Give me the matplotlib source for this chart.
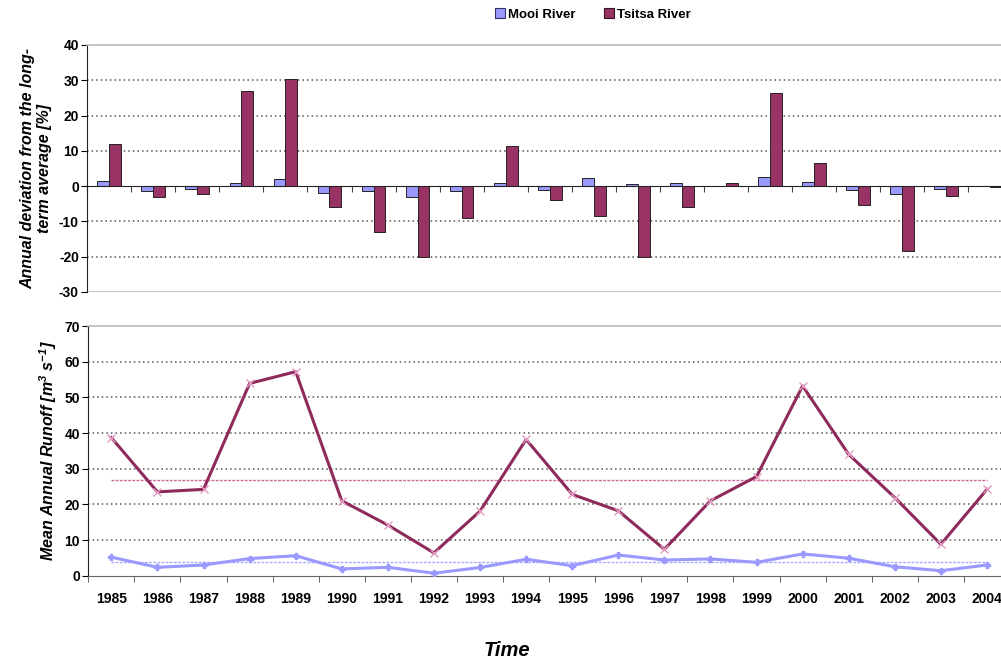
import matplotlib
matplotlib.use("Agg")
import matplotlib.pyplot as plt
from matplotlib.lines import Line2D
from matplotlib.ticker import FixedLocator, NullFormatter
import numpy as np

plt.rcParams['font.family'] = ['Liberation Sans', 'DejaVu Sans']
plt.rcParams['font.weight'] = 'bold'
plt.rcParams['axes.unicode_minus'] = False
plt.rcParams['mathtext.fontset'] = 'custom'
plt.rcParams['mathtext.rm'] = 'Liberation Sans:bold:italic'
plt.rcParams['mathtext.it'] = 'Liberation Sans:bold:italic'

# Annual deviation from the long-term average [%]
dev_years = list(range(1985, 2006))
mooi_dev = [1.5, -1.5, -0.8, 1.0, 2.0, -2.0, -1.5, -3.0, -1.5, 1.0,
            -1.0, 2.3, 0.7, 1.0, 0.0, 2.5, 1.2, -1.2, -2.3, -0.8, 0.1]
tsitsa_dev = [12.0, -3.0, -2.3, 27.0, 30.5, -6.0, -13.0, -20.0, -9.0, 11.5,
              -3.8, -8.5, -20.0, -5.8, 1.0, 26.5, 6.5, -5.3, -18.3, -2.8, -0.2]

# Mean annual runoff [m3/s]
years = list(range(1985, 2005))
tsitsa_runoff = [38.7, 23.5, 24.2, 53.9, 57.2, 21.0, 14.2, 6.4, 18.1, 38.2,
                 22.8, 18.2, 7.4, 21.0, 27.8, 53.2, 34.0, 21.9, 8.8, 24.2]
mooi_runoff = [5.2, 2.35, 3.0, 4.8, 5.6, 1.9, 2.35, 0.7, 2.3, 4.6,
               2.8, 5.8, 4.4, 4.7, 3.75, 6.1, 4.9, 2.5, 1.4, 3.0]
tsitsa_mean = 26.7
mooi_mean = 3.75

MOOI = '#9999FF'
TSITSA = '#993366'
GRID = '#555555'
BORDER = '#BBBBBB'

fig = plt.figure(figsize=(10.01, 6.64), dpi=100)

# ---------- top panel: deviation bars ----------
W, H = 1001.0, 664.0
ax1 = fig.add_axes([87.3 / W, 1 - 292 / H, (1012 - 87.3) / W, (292 - 45) / H])
n1 = len(dev_years)
x1 = np.arange(n1)
bw = 0.27
ax1.bar(x1 - bw / 2, mooi_dev, bw, color=MOOI, edgecolor='#222222', linewidth=0.7, zorder=3)
ax1.bar(x1 + bw / 2, tsitsa_dev, bw, color=TSITSA, edgecolor='#222222', linewidth=0.7, zorder=3)
ax1.set_xlim(-0.5, n1 - 0.5)
ax1.set_ylim(-30, 40)
ax1.set_yticks(range(-30, 41, 10))
for v in (30, 20, 10, -10, -20):
    ax1.axhline(v, color=GRID, linestyle=(0, (1, 2)), linewidth=1.1, zorder=1)
ax1.axhline(-30, color=BORDER, linewidth=1.2, zorder=1)
ax1.spines['top'].set_color(BORDER)
ax1.spines['top'].set_linewidth(1.2)
ax1.spines['right'].set_visible(False)
ax1.spines['bottom'].set_position(('data', 0))
ax1.spines['bottom'].set_color('#222222')
ax1.spines['bottom'].set_zorder(4)
ax1.spines['left'].set_color('#222222')
ax1.xaxis.set_major_locator(FixedLocator(np.arange(n1 + 1) - 0.5))
ax1.xaxis.set_major_formatter(NullFormatter())
ax1.tick_params(axis='x', direction='out', length=4, color='#444444')
ax1.tick_params(axis='y', direction='out', length=4, labelsize=10, pad=2)
ax1.set_ylabel('Annual deviation from the long-\nterm average [%]',
               fontsize=11.5, fontstyle='italic', fontweight='bold', labelpad=5,
               linespacing=1.15)

# ---------- bottom panel: runoff lines ----------
ax2 = fig.add_axes([88.3 / W, 1 - 575.7 / H, (1010 - 88.3) / W, (575.7 - 326) / H])
n2 = len(years)
x2 = np.arange(n2)
ax2.set_xlim(-0.5, n2 - 0.5)
ax2.set_ylim(0, 70)
ax2.set_yticks(range(0, 71, 10))
for v in range(10, 61, 10):
    ax2.axhline(v, color=GRID, linestyle=(0, (1, 2)), linewidth=1.1, zorder=1)
ax2.plot([x2[0], x2[-1]], [tsitsa_mean, tsitsa_mean], color='#CC6699',
         linestyle=(0, (2, 1)), linewidth=1.0, zorder=2)
ax2.plot([x2[0], x2[-1]], [mooi_mean, mooi_mean], color='#AAAAFF',
         linestyle=(0, (2, 1)), linewidth=1.0, zorder=2)
ax2.plot(x2, tsitsa_runoff, color='#8E2A5C', linewidth=2.2, marker='x', markersize=6,
         markeredgecolor='#E39AC0', markeredgewidth=1.0, zorder=3)
ax2.plot(x2, mooi_runoff, color=MOOI, linewidth=2.2, marker='P', markersize=5,
         markeredgecolor=MOOI, zorder=3)
ax2.spines['top'].set_color(BORDER)
ax2.spines['top'].set_linewidth(1.2)
ax2.spines['right'].set_visible(False)
ax2.spines['bottom'].set_color('#666666')
ax2.spines['left'].set_color('#222222')
ax2.set_xticks(x2)
ax2.set_xticklabels([str(y) for y in years])
ax2.set_xticks(np.arange(n2 + 1) - 0.5, minor=True)
ax2.tick_params(axis='x', which='major', length=0, labelsize=10, pad=12)
ax2.tick_params(axis='x', which='minor', direction='out', length=4, color='#444444')
ax2.tick_params(axis='y', direction='out', length=4, labelsize=10, pad=2)
ax2.set_ylabel(r'Mean Annual Runoff [m$^{3}$ s$^{-1}$]',
               fontsize=11.5, fontstyle='italic', fontweight='bold', labelpad=4)

fig.text(507 / W, 1 - 651 / H, 'Time', ha='center', va='center',
         fontsize=14.5, fontstyle='italic', fontweight='bold')

handles = [
    Line2D([], [], linestyle='none', marker='s', markersize=7,
           markerfacecolor=MOOI, markeredgecolor='#333366', markeredgewidth=0.8),
    Line2D([], [], linestyle='none', marker='s', markersize=7,
           markerfacecolor=TSITSA, markeredgecolor='#331122', markeredgewidth=0.8),
]
fig.legend(handles, ['Mooi River', 'Tsitsa River'], loc='center',
           bbox_to_anchor=(592 / W, 1 - 15 / H), ncol=2, frameon=False,
           fontsize=9.5, handletextpad=0.1, columnspacing=2.0, handlelength=1.0)

fig.savefig('out.png', dpi=100)
